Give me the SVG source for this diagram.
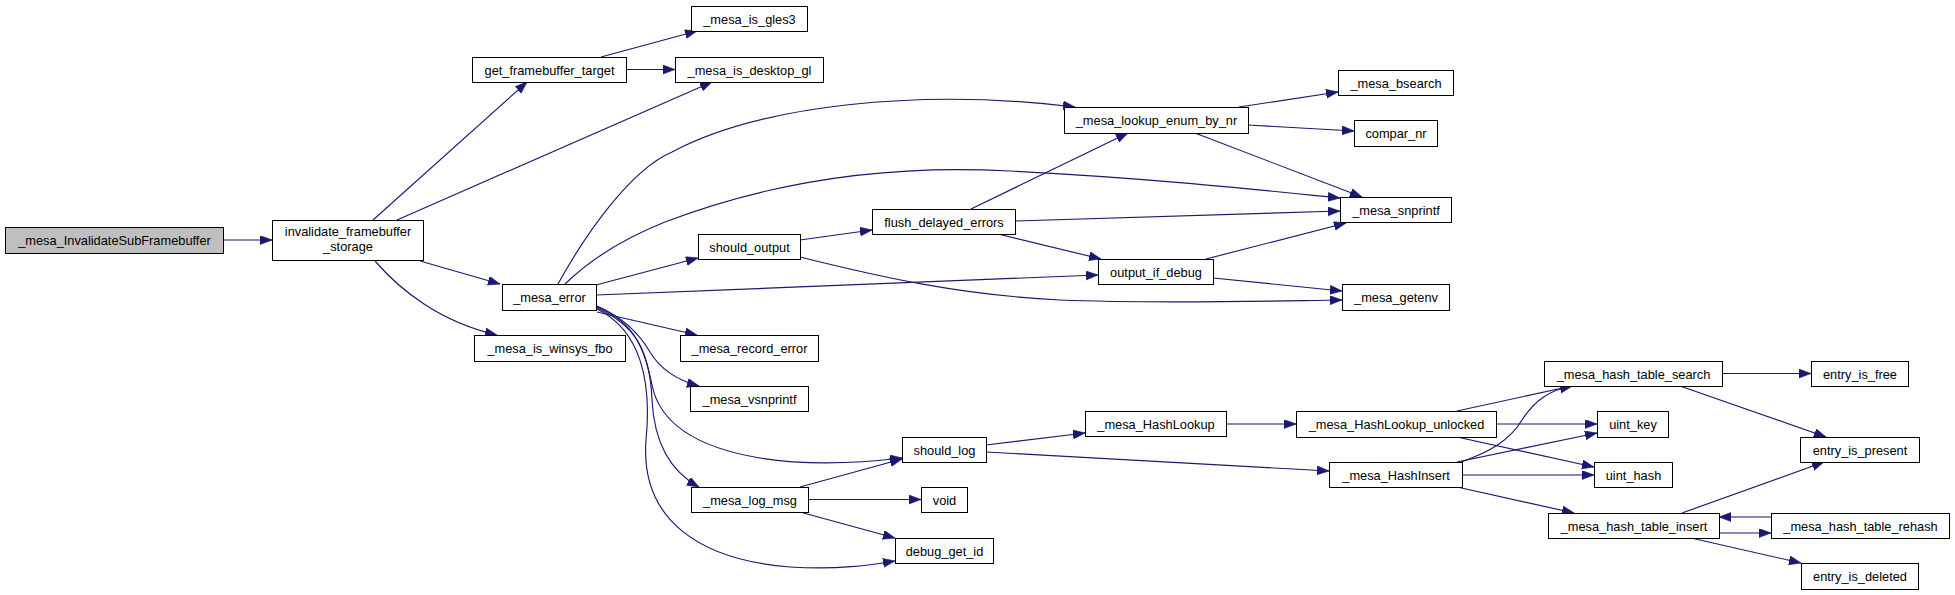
<svg xmlns="http://www.w3.org/2000/svg" width="1955" height="595" viewBox="0 0 1955 595">
<style>
.n rect{fill:#fff;stroke:#000;stroke-width:1}
.n text{font-family:"Liberation Sans",Arial,sans-serif;font-size:12.8px;text-anchor:middle;fill:#000}
.e path{fill:none;stroke:#191970;stroke-width:1.15}
</style>
<defs>
<marker id="a" markerUnits="userSpaceOnUse" markerWidth="13" markerHeight="10" refX="12" refY="4.5" orient="auto"><path d="M0,0 L12,4.5 L0,9 z" fill="#191970" stroke="#191970" stroke-width="0.6"/></marker>
</defs>
<rect width="1955" height="595" fill="#fff"/>
<g id="edges" class="e">
<path d="M223,240 L272,240" marker-end="url(#a)"/>
<path d="M373,220 L527,82" marker-end="url(#a)"/>
<path d="M397,220 L712,82" marker-end="url(#a)"/>
<path d="M420,261 L500,284" marker-end="url(#a)"/>
<path d="M375,261 C400,290 440,322 497,335" marker-end="url(#a)"/>
<path d="M601,57 L697,31" marker-end="url(#a)"/>
<path d="M626,69.5 L675,69.5" marker-end="url(#a)"/>
<path d="M558,284 C585,235 630,170 672,152 C760,105 920,88 1075,107" marker-end="url(#a)"/>
<path d="M565,284 C600,250 640,232 665,222 C780,178 900,165 1010,171 C1150,178 1260,190 1340,198" marker-end="url(#a)"/>
<path d="M596,285 L698,258" marker-end="url(#a)"/>
<path d="M596,295 L1098,275" marker-end="url(#a)"/>
<path d="M597,312 L697,335" marker-end="url(#a)"/>
<path d="M597,306 C625,318 640,335 650,352 C662,372 680,381 699,386" marker-end="url(#a)"/>
<path d="M597,307 C635,322 645,350 652,385 C660,425 700,448 760,458 C810,466 860,463 902,458" marker-end="url(#a)"/>
<path d="M597,308 C635,325 650,350 652,400 C654,440 668,470 699,487" marker-end="url(#a)"/>
<path d="M597,309 C640,330 652,380 646,440 C640,520 700,560 790,567 C840,570 870,565 895,561" marker-end="url(#a)"/>
<path d="M800,487 L902,459" marker-end="url(#a)"/>
<path d="M808,499.5 L921,499.5" marker-end="url(#a)"/>
<path d="M800,512 L895,538" marker-end="url(#a)"/>
<path d="M986,445 L1085,433" marker-end="url(#a)"/>
<path d="M986,452 L1329,471" marker-end="url(#a)"/>
<path d="M800,240 L872,230" marker-end="url(#a)"/>
<path d="M800,257 C880,277 960,295 1060,300 C1160,304 1270,301 1342,300" marker-end="url(#a)"/>
<path d="M971,209 L1128,133" marker-end="url(#a)"/>
<path d="M1015,221 L1340,211" marker-end="url(#a)"/>
<path d="M998,234 L1101,259" marker-end="url(#a)"/>
<path d="M1239,107 L1338,92" marker-end="url(#a)"/>
<path d="M1248,125 L1354,131" marker-end="url(#a)"/>
<path d="M1195,133 L1362,197" marker-end="url(#a)"/>
<path d="M1206,259 L1346,223" marker-end="url(#a)"/>
<path d="M1213,278 L1342,291" marker-end="url(#a)"/>
<path d="M1226,424 L1296,424" marker-end="url(#a)"/>
<path d="M1457,411 L1572,386" marker-end="url(#a)"/>
<path d="M1496,424 L1597,424" marker-end="url(#a)"/>
<path d="M1457,437 L1594,467" marker-end="url(#a)"/>
<path d="M1461,462 C1490,452 1510,440 1522,420 C1535,400 1550,390 1572,386" marker-end="url(#a)"/>
<path d="M1457,462 L1597,433" marker-end="url(#a)"/>
<path d="M1462,475 L1594,475" marker-end="url(#a)"/>
<path d="M1457,487 L1574,513" marker-end="url(#a)"/>
<path d="M1722,373.5 L1811,373.5" marker-end="url(#a)"/>
<path d="M1680,386 L1826,437" marker-end="url(#a)"/>
<path d="M1682,513 L1824,462" marker-end="url(#a)"/>
<path d="M1719,533 L1771,533" marker-end="url(#a)"/>
<path d="M1771,517 L1719,517" marker-end="url(#a)"/>
<path d="M1691,538 L1801,563" marker-end="url(#a)"/>
</g>
<g id="n_root" class="n"><rect x="5.5" y="227.5" width="218" height="26" style="fill:#bfbfbf"/><text x="114.5" y="245">_mesa_InvalidateSubFramebuffer</text></g>
<g id="n_ifs" class="n"><rect x="272.5" y="220.5" width="151" height="40"/><text x="348" y="236">invalidate_framebuffer</text><text x="348" y="251">_storage</text></g>
<g id="n_gft" class="n"><rect x="472.5" y="57.5" width="154" height="25"/><text x="549.5" y="74.5">get_framebuffer_target</text></g>
<g id="n_gles3" class="n"><rect x="691.5" y="6.5" width="116" height="25"/><text x="749.5" y="23.5">_mesa_is_gles3</text></g>
<g id="n_desktop" class="n"><rect x="675.5" y="57.5" width="148" height="25"/><text x="749.5" y="74.5">_mesa_is_desktop_gl</text></g>
<g id="n_err" class="n"><rect x="502.5" y="284.5" width="94" height="26"/><text x="549.5" y="302">_mesa_error</text></g>
<g id="n_winsys" class="n"><rect x="474.5" y="335.5" width="151" height="26"/><text x="550" y="353">_mesa_is_winsys_fbo</text></g>
<g id="n_lookup" class="n"><rect x="1064.5" y="107.5" width="184" height="26"/><text x="1156.5" y="125">_mesa_lookup_enum_by_nr</text></g>
<g id="n_bsearch" class="n"><rect x="1338.5" y="70.5" width="115" height="25"/><text x="1396" y="87.5">_mesa_bsearch</text></g>
<g id="n_compar" class="n"><rect x="1354.5" y="120.5" width="83" height="26"/><text x="1396" y="138">compar_nr</text></g>
<g id="n_snprintf" class="n"><rect x="1340.5" y="197.5" width="111" height="25"/><text x="1396" y="214.5">_mesa_snprintf</text></g>
<g id="n_getenv" class="n"><rect x="1342.5" y="284.5" width="107" height="26"/><text x="1396" y="302">_mesa_getenv</text></g>
<g id="n_flush" class="n"><rect x="872.5" y="209.5" width="143" height="25"/><text x="944" y="226.5">flush_delayed_errors</text></g>
<g id="n_shouldout" class="n"><rect x="698.5" y="234.5" width="102" height="25"/><text x="749.5" y="251.5">should_output</text></g>
<g id="n_outdbg" class="n"><rect x="1098.5" y="259.5" width="115" height="25"/><text x="1156" y="276.5">output_if_debug</text></g>
<g id="n_record" class="n"><rect x="680.5" y="335.5" width="138" height="26"/><text x="749.5" y="353">_mesa_record_error</text></g>
<g id="n_vsn" class="n"><rect x="690.5" y="386.5" width="118" height="25"/><text x="749.5" y="403.5">_mesa_vsnprintf</text></g>
<g id="n_shouldlog" class="n"><rect x="902.5" y="437.5" width="84" height="25"/><text x="944.5" y="454.5">should_log</text></g>
<g id="n_logmsg" class="n"><rect x="691.5" y="487.5" width="117" height="25"/><text x="750" y="504.5">_mesa_log_msg</text></g>
<g id="n_void" class="n"><rect x="921.5" y="487.5" width="46" height="25"/><text x="944.5" y="504.5">void</text></g>
<g id="n_dbgid" class="n"><rect x="895.5" y="538.5" width="98" height="25"/><text x="944.5" y="555.5">debug_get_id</text></g>
<g id="n_hlookup" class="n"><rect x="1085.5" y="411.5" width="141" height="25"/><text x="1156" y="428.5">_mesa_HashLookup</text></g>
<g id="n_hlu" class="n"><rect x="1296.5" y="411.5" width="200" height="26"/><text x="1396.5" y="429">_mesa_HashLookup_unlocked</text></g>
<g id="n_hinsert" class="n"><rect x="1329.5" y="462.5" width="133" height="25"/><text x="1396" y="479.5">_mesa_HashInsert</text></g>
<g id="n_hts" class="n"><rect x="1544.5" y="361.5" width="178" height="25"/><text x="1633.5" y="378.5">_mesa_hash_table_search</text></g>
<g id="n_free" class="n"><rect x="1811.5" y="361.5" width="97" height="25"/><text x="1860" y="378.5">entry_is_free</text></g>
<g id="n_ukey" class="n"><rect x="1597.5" y="411.5" width="71" height="26"/><text x="1633" y="429">uint_key</text></g>
<g id="n_uhash" class="n"><rect x="1594.5" y="462.5" width="78" height="25"/><text x="1633.5" y="479.5">uint_hash</text></g>
<g id="n_present" class="n"><rect x="1800.5" y="437.5" width="119" height="25"/><text x="1860" y="454.5">entry_is_present</text></g>
<g id="n_hti" class="n"><rect x="1548.5" y="513.5" width="171" height="25"/><text x="1634" y="530.5">_mesa_hash_table_insert</text></g>
<g id="n_rehash" class="n"><rect x="1771.5" y="513.5" width="178" height="25"/><text x="1860.5" y="530.5">_mesa_hash_table_rehash</text></g>
<g id="n_deleted" class="n"><rect x="1801.5" y="563.5" width="117" height="26"/><text x="1860" y="581">entry_is_deleted</text></g>
</svg>
